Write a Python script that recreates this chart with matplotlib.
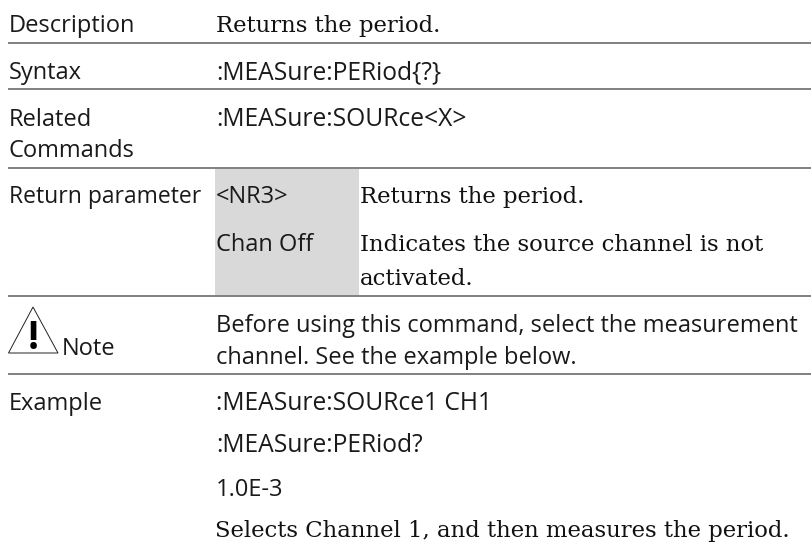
import matplotlib
matplotlib.use('Agg')
import matplotlib.pyplot as plt
from matplotlib.patches import Polygon, Rectangle

SANS = 'Open Sans'
SERIF = 'DejaVu Serif'

W, H = 812, 543

rule_rows = [43, 89, 168, 296, 374]

# (x, baseline, text)
sans_texts = [
    (9, 32, 'Description'),
    (9, 79, 'Syntax'),
    (9, 126, 'Related'),
    (9, 157, 'Commands'),
    (216, 203, '<NR3>'),
    (216, 251, 'Chan Off'),
    (62, 355, 'Note'),
    (216, 332, 'Before using this command, select the measurement'),
    (216, 364, 'channel. See the example below.'),
    (9, 410, 'Example'),
    (216, 496, '1.0E-3'),
]
command_texts = [
    (216, 79, ':MEASure:PERiod{?}'),
    (216, 126, ':MEASure:SOURce<X>'),
    (216, 410, ':MEASure:SOURce1 CH1'),
    (216, 452, ':MEASure:PERiod?'),
]
serif_texts = [
    (216, 32, 'Returns the period.'),
    (360, 203, 'Returns the period.'),
    (360, 251, 'Indicates the source channel is not'),
    (360, 285, 'activated.'),
    (215, 537.5, 'Selects Channel 1, and then measures the period.'),
]

fig = plt.figure(figsize=(W / 100, H / 100), dpi=100)
ax = fig.add_axes([0, 0, 1, 1])
ax.set_xlim(0, W)
ax.set_ylim(H, 0)
ax.axis('off')

# серая ячейка
ax.add_patch(Rectangle((215, 169), 144, 127, fc='#d9d9d9', ec='none'))

for y in rule_rows:
    ax.plot([8, W], [y, y], color='#808080', lw=1.4, solid_capstyle='butt')

for x, y, s in sans_texts:
    ax.text(x, y, s, family=SANS, fontsize=17, color='#1a1a1a', va='baseline')
for x, y, s in command_texts:
    ax.text(x, y, s, family=SANS, fontsize=17.7, color='#1a1a1a', va='baseline')
ax.text(9, 203, 'Return parameter', family=SANS, fontsize=16.5, color='#1a1a1a', va='baseline')
for x, y, s in serif_texts:
    ax.text(x, y, s, family=SERIF, fontsize=16.35, color='#111111', va='baseline')

# значок Note
ax.add_patch(Polygon([(33, 307), (8.5, 353), (58, 353)], closed=True, fc='white', ec='#222222', lw=0.7))
ax.text(33, 349, '!', family=SANS, weight='bold', fontsize=28, color='black', ha='center', va='baseline')

fig.savefig('out.png', dpi=100)
